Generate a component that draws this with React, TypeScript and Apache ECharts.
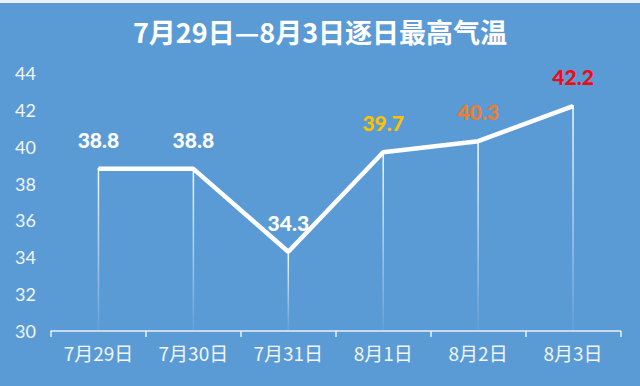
import React, { useEffect, useRef } from "react";
import * as echarts from "echarts";

const titleText = "7月29日—8月3日逐日最高气温";
const categories = ["7月29日", "7月30日", "7月31日", "8月1日", "8月2日", "8月3日"];
const temps = [38.8, 38.8, 34.3, 39.7, 40.3, 42.2];
const labelColors = ["#FFFFFF", "#FFFFFF", "#FFFFFF", "#FFC000", "#ED7D31", "#F00A14"];
const yMin = 30;
const yMax = 44;
const yStep = 2;

const FONT = "Lato, 'Noto Sans CJK SC', sans-serif";

export default function App() {
  const ref = useRef<HTMLDivElement>(null);
  useEffect(() => {
    if (!ref.current) return;
    const chart = echarts.init(ref.current, undefined, { renderer: "svg" });
    chart.setOption({
      animation: false,
      backgroundColor: "#5B9BD5",
      graphic: [
        { type: "rect", shape: { x: 0, y: 0, width: 640, height: 3 }, style: { fill: "#EEF2F6" } },
      ],
      title: {
        text: titleText,
        left: "center",
        top: 13,
        textStyle: { color: "#FFFFFF", fontSize: 27, fontWeight: "bold", fontFamily: "'Noto Sans CJK SC', sans-serif" },
      },
      grid: { left: 51, right: 19.5, top: 73, bottom: 55 },
      xAxis: {
        type: "category",
        data: categories,
        boundaryGap: true,
        axisLine: { lineStyle: { color: "#EAF1F8", width: 1.5 } },
        axisTick: { show: true, length: 6, lineStyle: { color: "#EAF1F8", width: 1.5 } },
        axisLabel: { color: "#F2F6FA", fontSize: 19, margin: 12, fontFamily: "'Noto Sans CJK SC', sans-serif" },
        splitLine: { show: false },
      },
      yAxis: {
        type: "value",
        min: yMin,
        max: yMax,
        interval: yStep,
        axisLine: { show: false },
        axisTick: { show: false },
        splitLine: { show: false },
        axisLabel: { color: "#F2F6FA", fontSize: 18, margin: 15, fontFamily: FONT },
      },
      series: [
        {
          type: "bar",
          data: temps,
          barWidth: 1.5,
          silent: true,
          itemStyle: {
            color: new echarts.graphic.LinearGradient(0, 0, 0, 1, [
              { offset: 0, color: "rgba(255,255,255,0.95)" },
              { offset: 1, color: "rgba(255,255,255,0.05)" },
            ]),
          },
          z: 1,
        },
        {
          type: "line",
          data: temps.map((v, i) => ({
            value: v,
            label: { color: labelColors[i] },
          })),
          symbol: "circle",
          symbolSize: 2,
          showSymbol: true,
          itemStyle: { color: "#FFFFFF" },
          lineStyle: { color: "#FFFFFF", width: 4.5 },
          z: 3,
          label: {
            show: true,
            position: "top",
            distance: 18,
            fontSize: 21,
            fontWeight: 900,
            fontFamily: FONT,
            formatter: (p: any) => Number(p.value).toFixed(1),
          },
        },
      ],
    });
    return () => chart.dispose();
  }, []);
  return (
    <div
      ref={ref}
      style={{ position: "fixed", left: 0, top: 0, width: 640, height: 386 }}
    />
  );
}
